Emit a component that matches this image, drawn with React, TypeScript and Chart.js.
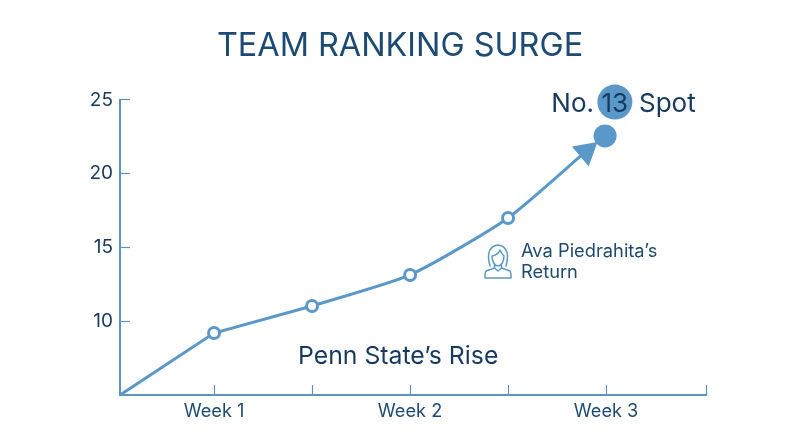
import React, { useEffect, useRef } from "react";
import { Chart, registerables } from "chart.js";

Chart.register(...registerables);

const titleText = "TEAM RANKING SURGE";
const straightX = [0.52, 1, 1.5];
const straightRank = [5, 9.2, 11.03];
const curvedX = [1.5, 2, 2.5, 2.94];
const curvedRank = [11.03, 13.14, 17, 22.02];
const xTickValues = [1, 1.5, 2, 2.5, 3, 3.51];
const xTickLabels: Record<string, string> = { "1": "Week 1", "2": "Week 2", "3": "Week 3" };
const yTickValues = [5, 10, 15, 20, 25];
const arrowPoint = { x: 2.898, y: 21.5 };
const endPoint = { x: 2.995, y: 22.56 };
const badgePoint = { x: 3.045, y: 24.86 };

const FONT = "Inter, Roboto, sans-serif";
const NAVY = "#17395f";
const BLUE = "#5a98c9";
const AXIS = "#5d95bd";

const annotations = {
  id: "annotations",
  afterDatasetsDraw(chart: any) {
    const { ctx, scales } = chart;
    const bx = scales.x.getPixelForValue(badgePoint.x);
    const by = scales.y.getPixelForValue(badgePoint.y);
    ctx.save();
    ctx.fillStyle = NAVY;
    ctx.textBaseline = "middle";
    ctx.textAlign = "center";
    ctx.font = `400 26px ${FONT}`;
    ctx.fillText("13", bx, by + 2);
    ctx.textAlign = "right";
    ctx.fillText("No.", 594, by + 2);
    ctx.textAlign = "left";
    ctx.fillText("Spot", 639, by + 2);
    ctx.font = `400 24.8px ${FONT}`;
    ctx.fillText("Penn State\u2019s Rise", 298, 357);
    ctx.font = `400 18.3px ${FONT}`;
    ctx.fillStyle = "#1f4a70";
    ctx.fillText("Ava Piedrahita\u2019s", 521, 252);
    ctx.fillText("Return", 521, 273);

    ctx.strokeStyle = BLUE;
    ctx.lineWidth = 1.5;
    ctx.lineJoin = "round";
    ctx.lineCap = "round";
    ctx.beginPath();
    ctx.moveTo(490, 266);
    ctx.bezierCurveTo(487, 256, 488, 246, 498, 245);
    ctx.bezierCurveTo(508, 246, 509, 256, 506, 266);
    ctx.moveTo(492, 256);
    ctx.bezierCurveTo(497, 255, 499, 253, 500, 250);
    ctx.bezierCurveTo(501, 253, 503, 255, 504, 256);
    ctx.moveTo(492, 256);
    ctx.bezierCurveTo(492, 262, 495, 266, 498, 266);
    ctx.bezierCurveTo(501, 266, 504, 262, 504, 256);
    ctx.moveTo(494.5, 265);
    ctx.lineTo(494.5, 268);
    ctx.lineTo(486, 271);
    ctx.bezierCurveTo(485, 272, 485, 275, 485, 278);
    ctx.lineTo(511, 278);
    ctx.bezierCurveTo(511, 275, 511, 272, 510, 271);
    ctx.lineTo(501.5, 268);
    ctx.lineTo(501.5, 265);
    ctx.moveTo(494.5, 268);
    ctx.lineTo(498, 271);
    ctx.lineTo(501.5, 268);
    ctx.stroke();
    ctx.restore();
  },
};

const single = (p: { x: number; y: number }, radius: number) => ({
  data: [p],
  showLine: false,
  pointRadius: radius,
  pointBackgroundColor: BLUE,
  pointBorderColor: BLUE,
  pointBorderWidth: 0,
  clip: false,
  order: 1,
});

export default function App() {
  const ref = useRef<HTMLCanvasElement>(null);
  useEffect(() => {
    document.body.style.margin = "0";
    const chart = new Chart(ref.current!, {
      type: "line",
      plugins: [annotations],
      data: {
        datasets: [
          {
            data: curvedX.map((x, i) => ({ x, y: curvedRank[i] })),
            borderColor: BLUE,
            borderWidth: 3,
            tension: 0.2,
            pointRadius: [0, 5.5, 5.5, 0],
            pointBackgroundColor: "#ffffff",
            pointBorderColor: BLUE,
            pointBorderWidth: 3,
            clip: false,
            order: 2,
          },
          {
            data: straightX.map((x, i) => ({ x, y: straightRank[i] })),
            borderColor: BLUE,
            borderWidth: 3,
            tension: 0,
            pointRadius: [0, 5.5, 5.5],
            pointBackgroundColor: "#ffffff",
            pointBorderColor: BLUE,
            pointBorderWidth: 3,
            clip: false,
            order: 1,
          },
          { ...single(arrowPoint, 15), pointStyle: "triangle", rotation: 50 },
          single(endPoint, 11.5),
          single(badgePoint, 17.5),
        ],
      },
      options: {
        animation: false,
        responsive: false,
        plugins: {
          legend: { display: false },
          tooltip: { enabled: false },
          title: {
            display: true,
            text: titleText,
            color: "#1d4a73",
            font: { family: FONT, size: 32.4, weight: 400 },
            padding: { top: 27, bottom: 34.1 },
          },
        },
        scales: {
          x: {
            type: "linear",
            min: 0.52,
            max: 3.51,
            afterBuildTicks: (s: any) => {
              s.ticks = xTickValues.map((value) => ({ value }));
            },
            afterFit: (s: any) => {
              s.height = 52;
            },
            ticks: {
              autoSkip: false,
              maxRotation: 0,
              padding: 16,
              color: "#1f4a70",
              font: { family: FONT, size: 18.2 },
              callback: (v: any) => xTickLabels[String(v)] ?? "",
            },
            grid: { drawOnChartArea: false, tickLength: -10, tickColor: AXIS, tickWidth: 1.2 },
            border: { color: AXIS, width: 2 },
          },
          y: {
            type: "linear",
            min: 5,
            max: 25,
            afterBuildTicks: (s: any) => {
              s.ticks = yTickValues.map((value) => ({ value }));
            },
            afterFit: (s: any) => {
              s.width = 120;
            },
            ticks: {
              padding: 17,
              color: NAVY,
              font: { family: FONT, size: 19 },
              callback: (v: any) => (v === 5 ? "" : String(v)),
            },
            grid: { drawOnChartArea: false, tickLength: -10, tickColor: AXIS, tickWidth: 1.2 },
            border: { color: AXIS, width: 2 },
          },
          rightGutter: {
            type: "linear",
            position: "right",
            afterFit: (s: any) => {
              s.width = 94;
            },
            ticks: { callback: () => "" },
            grid: { display: false },
            border: { display: false },
          },
        },
      },
    } as any);
    return () => chart.destroy();
  }, []);
  return <canvas ref={ref} width={800} height={447} style={{ display: "block", width: 800, height: 447 }} />;
}
